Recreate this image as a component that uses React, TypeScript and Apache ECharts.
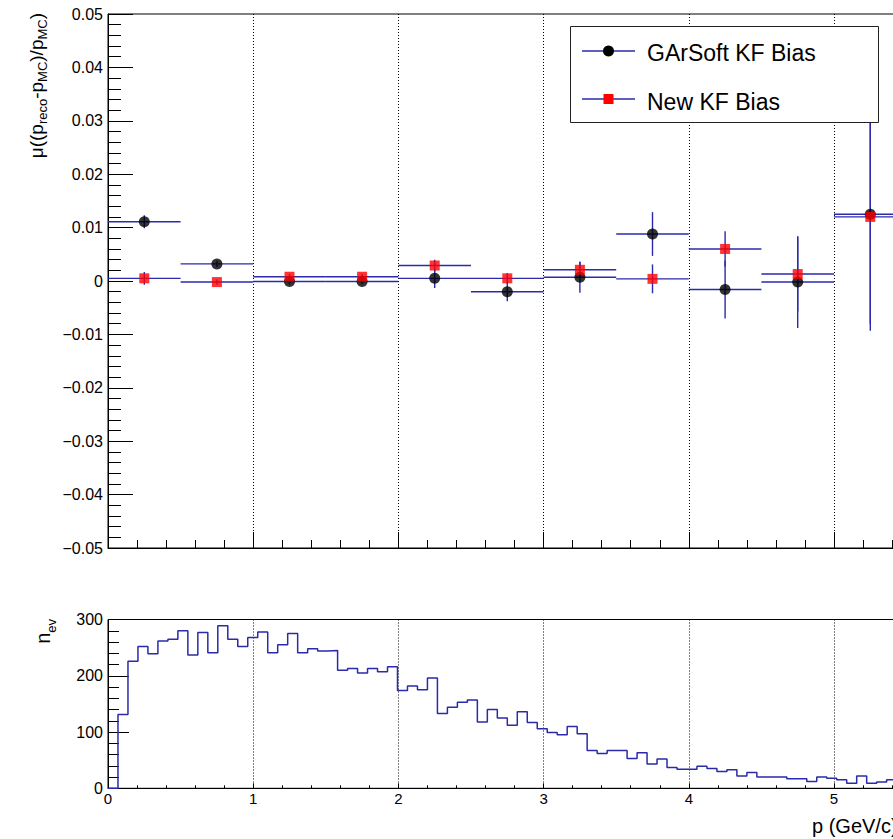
import React, { useEffect, useRef } from "react";
import * as echarts from "echarts";

// ---- Data ----
const biasBinWidth = 0.5;
const biasCenters = [0.25, 0.75, 1.25, 1.75, 2.25, 2.75, 3.25, 3.75, 4.25, 4.75, 5.25];
const garsoftBias = [0.0111, 0.0032, -0.0001, -0.0001, 0.0005, -0.002, 0.0007, 0.0088, -0.0016, -0.0002, 0.0125];
const garsoftErr = [0.0012, 0.0006, 0.0005, 0.0005, 0.0018, 0.0018, 0.0029, 0.0041, 0.0054, 0.0086, 0.0218];
const newKfBias = [0.0005, -0.0002, 0.0008, 0.0008, 0.0029, 0.0005, 0.0021, 0.0004, 0.006, 0.0013, 0.012];
const newKfErr = [0.0012, 0.0005, 0.0005, 0.0005, 0.0011, 0.001, 0.0015, 0.0027, 0.0033, 0.007, 0.02];

const histBinWidth = 5.5 / 80;
const histCounts = [
  0, 131, 226, 252, 239, 262, 265, 280, 237, 277,
  241, 289, 265, 252, 268, 278, 241, 255, 275, 241,
  248, 244, 245, 210, 213, 205, 213, 207, 216, 174,
  182, 175, 196, 133, 144, 153, 157, 118, 140, 125,
  112, 136, 117, 106, 99, 95, 110, 97, 67, 62,
  67, 67, 53, 63, 43, 52, 37, 34, 34, 39,
  35, 30, 33, 22, 28, 20, 20, 20, 17, 17,
  12, 20, 18, 15, 9, 22, 9, 11, 15, 12,
];

const legendLabels = ["GArSoft KF Bias", "New KF Bias"];

const FONT = '"Liberation Sans", Arial, Helvetica, sans-serif';
const BLUE = "#2a2aaa";

function measure(t: string, size: number): number {
  const c = document.createElement("canvas").getContext("2d");
  if (!c) return t.length * size * 0.55;
  c.font = `${size}px "Liberation Sans", Arial, sans-serif`;
  return c.measureText(t).width;
}

type Part = { t: string; sub?: boolean };

function verticalTitle(parts: Part[], mainSize: number, subSize: number, subOffset: number, x: number, yEnd: number) {
  let pos = 0;
  const children: any[] = [];
  for (const p of parts) {
    const size = p.sub ? subSize : mainSize;
    children.push({
      type: "text",
      x: pos,
      y: p.sub ? subOffset : 0,
      style: { text: p.t, font: `${size}px ${FONT}`, fill: "#000", align: "left", verticalAlign: "middle" },
    });
    pos += measure(p.t, size);
  }
  return { type: "group", x, y: yEnd + pos, rotation: Math.PI / 2, children };
}

function errorBars(xs: number[], ys: number[], es: number[]) {
  return {
    type: "custom",
    xAxisIndex: 0,
    yAxisIndex: 0,
    data: xs.map((x, i) => [x, ys[i], es[i]]),
    renderItem: (params: any, api: any) => {
      const x = api.value(0);
      const y = api.value(1);
      const e = api.value(2);
      const l = api.coord([x - biasBinWidth / 2, y]);
      const r = api.coord([x + biasBinWidth / 2, y]);
      const t = api.coord([x, y + e]);
      const b = api.coord([x, y - e]);
      const style = { stroke: BLUE, lineWidth: 1.4 };
      return {
        type: "group",
        children: [
          { type: "line", shape: { x1: l[0], y1: l[1], x2: r[0], y2: r[1] }, style },
          { type: "line", shape: { x1: t[0], y1: t[1], x2: b[0], y2: b[1] }, style },
        ],
      };
    },
    z: 2,
  };
}

export default function App() {
  const ref = useRef<HTMLDivElement>(null);
  useEffect(() => {
    if (!ref.current) return;
    const chart = echarts.init(ref.current, undefined, { renderer: "svg" });
    const histData: number[][] = histCounts.map((c, i) => [i * histBinWidth, c]);
    histData.push([histCounts.length * histBinWidth, histCounts[histCounts.length - 1]]);

    const commonX = {
      type: "value",
      min: 0,
      max: 6,
      interval: 1,
      axisLine: { show: true, onZero: false, lineStyle: { color: "#000", width: 1 } },
      splitLine: { show: true, lineStyle: { color: "#000", type: [1, 2], width: 1 } },
      minorSplitLine: { show: false },
    };

    const LZ = 100;
    const option: any = {
      animation: false,
      backgroundColor: "#fff",
      grid: [
        { left: 108, top: 14, width: 871.2, height: 534, show: true, borderColor: "#000", borderWidth: 1, backgroundColor: "transparent" },
        { left: 108, top: 619.5, width: 871.2, height: 168.8, show: true, borderColor: "#000", borderWidth: 1, backgroundColor: "transparent" },
      ],
      xAxis: [
        {
          ...commonX,
          gridIndex: 0,
          axisLabel: { show: false },
          axisTick: { show: true, inside: true, length: 16, lineStyle: { color: "#000" } },
          minorTick: { show: true, splitNumber: 5, length: 8, lineStyle: { color: "#000" } },
        },
        {
          ...commonX,
          gridIndex: 1,
          axisLabel: {
            show: true,
            color: "#000",
            fontSize: 15,
            fontFamily: FONT,
            margin: 3,
            formatter: (v: number) => (v > 5.5 ? "" : String(v)),
          },
          axisTick: { show: true, inside: true, length: 5, lineStyle: { color: "#000" } },
          minorTick: { show: true, splitNumber: 5, length: 3, lineStyle: { color: "#000" } },
        },
      ],
      yAxis: [
        {
          type: "value",
          gridIndex: 0,
          min: -0.05,
          max: 0.05,
          interval: 0.01,
          axisLine: { show: true, onZero: false, lineStyle: { color: "#000" } },
          axisTick: { show: true, inside: true, length: 25, lineStyle: { color: "#000" } },
          minorTick: { show: true, splitNumber: 5, length: 13, lineStyle: { color: "#000" } },
          splitLine: { show: false },
          axisLabel: {
            color: "#000",
            fontSize: 16,
            fontFamily: FONT,
            margin: 5,
            formatter: (v: number) => {
              if (Math.abs(v) < 1e-9) return "0";
              return (v < 0 ? "\u2212" : "") + Math.abs(v).toFixed(2);
            },
          },
        },
        {
          type: "value",
          gridIndex: 1,
          min: 0,
          max: 300,
          interval: 100,
          axisLine: { show: true, onZero: false, lineStyle: { color: "#000" } },
          axisTick: { show: true, inside: true, length: 21, lineStyle: { color: "#000" } },
          minorTick: { show: true, splitNumber: 5, length: 11, lineStyle: { color: "#000" } },
          splitLine: { show: false },
          axisLabel: { color: "#000", fontSize: 16, fontFamily: FONT, margin: 5 },
        },
      ],
      series: [
        errorBars(biasCenters, garsoftBias, garsoftErr),
        {
          type: "scatter",
          name: legendLabels[0],
          xAxisIndex: 0,
          yAxisIndex: 0,
          symbol: "circle",
          symbolSize: 11,
          itemStyle: { color: "#000" },
          data: biasCenters.map((x, i) => [x, garsoftBias[i]]),
          z: 3,
        },
        errorBars(biasCenters, newKfBias, newKfErr),
        {
          type: "scatter",
          name: legendLabels[1],
          xAxisIndex: 0,
          yAxisIndex: 0,
          symbol: "rect",
          symbolSize: 10,
          itemStyle: { color: "#ff0000" },
          data: biasCenters.map((x, i) => [x, newKfBias[i]]),
          z: 3,
        },
        {
          type: "line",
          name: "n_ev",
          xAxisIndex: 1,
          yAxisIndex: 1,
          step: "end",
          showSymbol: false,
          symbol: "none",
          lineStyle: { color: BLUE, width: 1.5 },
          data: histData,
          z: 2,
        },
      ],
      graphic: [
        // legend
        { type: "rect", z: LZ, shape: { x: 570.5, y: 26.5, width: 308, height: 96 }, style: { fill: "#fff", stroke: "#222", lineWidth: 1 } },
        { type: "line", z: LZ + 1, shape: { x1: 582, y1: 51, x2: 635, y2: 51 }, style: { stroke: BLUE, lineWidth: 1.4 } },
        { type: "circle", z: LZ + 2, shape: { cx: 608.5, cy: 51, r: 5.5 }, style: { fill: "#000" } },
        { type: "text", z: LZ + 1, x: 647, y: 53, style: { text: legendLabels[0], font: `23px ${FONT}`, fill: "#000", align: "left", verticalAlign: "middle" } },
        { type: "line", z: LZ + 1, shape: { x1: 582, y1: 99, x2: 635, y2: 99 }, style: { stroke: BLUE, lineWidth: 1.4 } },
        { type: "rect", z: LZ + 2, shape: { x: 603.5, y: 94, width: 10, height: 10 }, style: { fill: "#ff0000" } },
        { type: "text", z: LZ + 1, x: 647, y: 101.5, style: { text: legendLabels[1], font: `23px ${FONT}`, fill: "#000", align: "left", verticalAlign: "middle" } },
        verticalTitle(
          [
            { t: "\u03bc((p" },
            { t: "reco", sub: true },
            { t: "-p" },
            { t: "MC", sub: true },
            { t: ")/p" },
            { t: "MC", sub: true },
            { t: ")" },
          ],
          19,
          13,
          6,
          36.5,
          13
        ),
        verticalTitle([{ t: "n" }, { t: "ev", sub: true }], 20, 13, 8.5, 43, 619),
        {
          type: "text",
          x: 812,
          y: 826,
          style: { text: "p (GeV/c)", font: `20px ${FONT}`, fill: "#000", align: "left", verticalAlign: "middle" },
        },
      ],
    };
    chart.setOption(option);
    return () => chart.dispose();
  }, []);

  return (
    <div style={{ position: "absolute", left: 0, top: 0, width: 893, height: 839, overflow: "hidden", background: "#fff" }}>
      <div ref={ref} style={{ width: 1000, height: 839 }} />
    </div>
  );
}
